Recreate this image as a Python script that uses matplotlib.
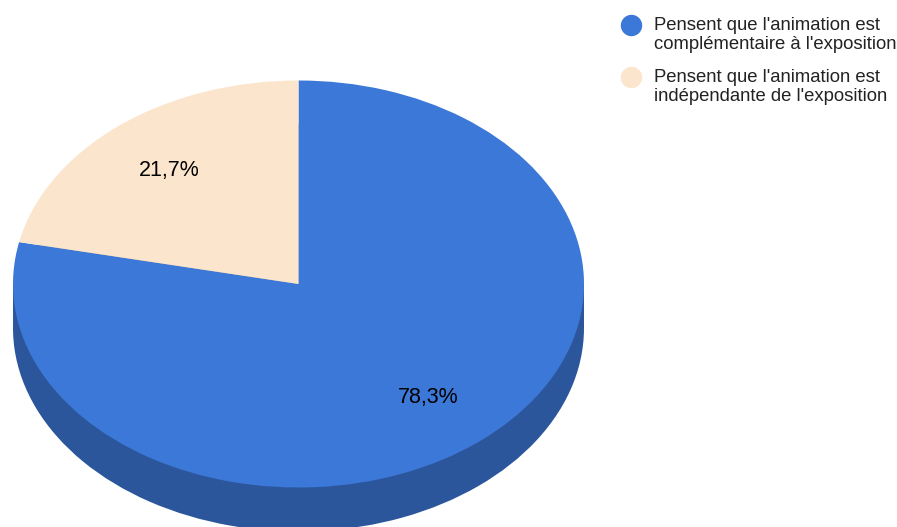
import matplotlib
matplotlib.use("Agg")
import matplotlib.pyplot as plt
from matplotlib.transforms import Affine2D
import matplotlib.colors as mcolors

plt.rcParams['font.family'] = ['Liberation Sans', 'DejaVu Sans']

labels = ["Pensent que l'animation est\ncomplémentaire à l'exposition",
          "Pensent que l'animation est\nindépendante de l'exposition"]
values = [78.3, 21.7]
colors = ["#3c78d8", "#fce5cd"]

W, H = 897, 527
fig = plt.figure(figsize=(W / 100, H / 100), dpi=100)
ax = fig.add_axes([0, 0, 1, 1])

cx, cy = 298.5, H - 284
rx, ry = 285.5, 203.5
depth = 44

def darker(c, f=0.72):
    r, g, b = mcolors.to_rgb(c)
    return (r * f, g * f, b * f)

top_tr = Affine2D().scale(rx, ry).translate(cx, cy) + ax.transData
bot_tr = Affine2D().scale(rx, ry).translate(cx, cy - depth) + ax.transData

# bottom (side) layer
bw, _ = ax.pie(values, colors=[darker(c) for c in colors], startangle=90,
               counterclock=False, radius=1, center=(0, 0), frame=True,
               wedgeprops=dict(linewidth=0))
for w in bw:
    w.set_transform(bot_tr)
ax.fill_between([cx - rx, cx + rx], cy - depth, cy, color=darker(colors[0]), lw=0)

# top face
tw, _, autotexts = ax.pie(values, colors=colors, startangle=90, counterclock=False,
                          radius=1, center=(0, 0), frame=True,
                          autopct=lambda p: f"{p:.1f}%".replace('.', ','),
                          pctdistance=0.72,
                          wedgeprops=dict(linewidth=0),
                          textprops=dict(fontsize=15.5, color='black'))
for w in tw:
    w.set_transform(top_tr)
for t in autotexts:
    t.set_transform(top_tr)

ax.set_xlim(0, W)
ax.set_ylim(0, H)
ax.set_aspect('auto')
ax.axis('off')

# legend (drawn manually to match layout: marker aligned with first line)
leg_x_marker, leg_x_text = 631, 654
leg_top, item_pitch, line_pitch = 30, 52, 19
for i, (lab, col) in enumerate(zip(labels, colors)):
    base = leg_top + i * item_pitch
    ax.plot([leg_x_marker], [H - (base - 5)], marker='o', markersize=14.4,
            markerfacecolor=col, markeredgecolor=col, linestyle='none')
    for j, line in enumerate(lab.split('\n')):
        ax.text(leg_x_text, H - (base + j * line_pitch), line, fontsize=13.3,
                ha='left', va='baseline', color='#222222')

fig.savefig("out.png", dpi=100)
